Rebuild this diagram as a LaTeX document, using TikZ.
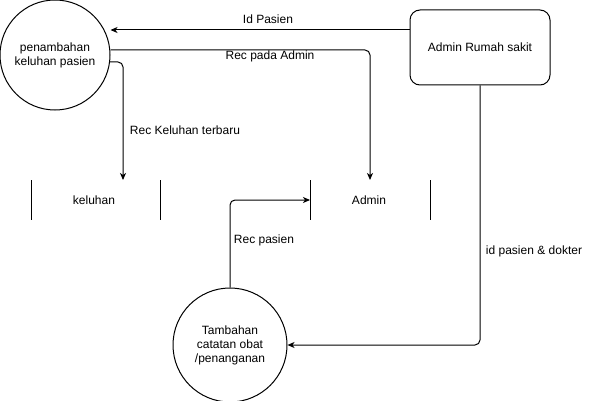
\documentclass[tikz,border=0pt]{standalone}
\usepackage{fontspec}
\setmainfont{Liberation Sans}
\usetikzlibrary{arrows.meta}
\begin{document}
\begin{tikzpicture}[x=1pt,y=-1pt,
  font=\fontsize{12}{14}\selectfont,
  proc/.style={draw,circle,line width=1pt,minimum size=110pt,inner sep=0pt,align=center},
  ent/.style={draw,rounded corners=10pt,line width=1pt,minimum width=140pt,minimum height=75pt,inner sep=0pt},
  flow/.style={line width=1pt,-{Stealth[length=7pt,width=6pt,inset=2pt]},rounded corners=5pt},
  lbl/.style={inner sep=1pt},
  storeline/.style={line width=1pt}]
\useasboundingbox (0,0) rectangle (591,401);
\node[proc] (p1) at (55,55) {penambahan\\keluhan pasien};
\node[proc,minimum size=114pt] (p2) at (230,345) {Tambahan\\catatan obat\\/penanganan};
\node[ent] (adm) at (480,47.5) {Admin Rumah sakit};
% stores
\node (s1) at (94,200) {keluhan};
\node (s2) at (369,200) {Admin};
\draw[storeline] (31,180) -- (31,220) (160,180) -- (160,220);
\draw[storeline] (310,180) -- (310,220) (430,180) -- (430,220);
\coordinate (s1top) at (123,180);
\coordinate (s2top) at (370,180);
\coordinate (s2left) at (310,200);
% flows
\draw[flow] (adm.west |- 0,30) -- (p1.east |- 0,30);
\node[lbl] at (268,19) {Id Pasien};
\draw[flow] (p1.east |- 0,50) -- (370,50) -- (s2top);
\node[lbl] at (270,56) {Rec pada Admin};
\draw[flow] (109,62) -- (123,62) -- (s1top);
\node[lbl] at (185,130) {Rec Keluhan terbaru};
\draw[flow] (p2.north) -- (230,200) -- (s2left);
\node[lbl] at (264,240) {Rec pasien};
\draw[flow] (adm.south) -- (480,345) -- (p2.east);
\node[lbl] at (534,251) {id pasien \& dokter};
\end{tikzpicture}
\end{document}
